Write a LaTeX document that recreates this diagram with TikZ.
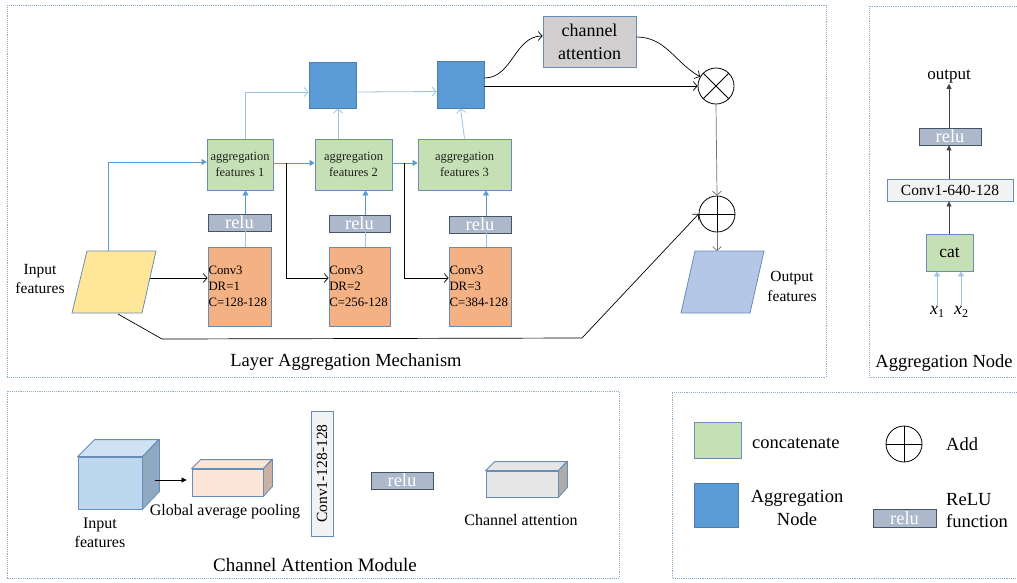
\documentclass[tikz,border=0pt]{standalone}
\usepackage{fontspec}
\setmainfont{Liberation Serif}
\usetikzlibrary{arrows.meta,calc}

\newcommand\fsz[2]{\fontsize{#1}{#2}\selectfont}
\newcommand\varsub[2]{\textit{#1}\raisebox{-3.5pt}{\fsz{12}{12}#2}}

\definecolor{frameC}{HTML}{8EAAC9}
\definecolor{blueL}{HTML}{5B9BD5}
\definecolor{blueP}{HTML}{9DC3E6}
\definecolor{aggG}{HTML}{C5E0B4}
\definecolor{edgeB}{HTML}{6A8DB5}
\definecolor{convO}{HTML}{F4B183}
\definecolor{reluF}{HTML}{ADB9CA}
\definecolor{reluE}{HTML}{44546A}
\definecolor{nodeB}{HTML}{5B9BD5}
\definecolor{nodeE}{HTML}{4A7EB0}
\definecolor{attG}{HTML}{D0CECE}
\definecolor{inY}{HTML}{FFE699}
\definecolor{outB}{HTML}{B4C7E7}
\definecolor{cubeF}{HTML}{BDD7EE}
\definecolor{cubeT}{HTML}{CFE2F3}
\definecolor{cubeS}{HTML}{8FA9C2}
\definecolor{poolF}{HTML}{FBE5D6}
\definecolor{poolS}{HTML}{C9B2A4}
\definecolor{caF}{HTML}{E7E6E6}
\definecolor{caS}{HTML}{ACACAC}
\definecolor{convL}{HTML}{F2F2F2}
\definecolor{txtD}{HTML}{1F1F1F}

\begin{document}
\begin{tikzpicture}[x=1pt,y=-1pt,
  box/.style={draw=edgeB, line width=0.8pt, inner sep=0pt, align=center},
  aggbox/.style={box, fill=aggG, text=txtD, font=\fsz{12.5}{15.5}},
  convbox/.style={box, fill=convO, font=\fsz{12.8}{16}, align=left, minimum height=79pt},
  relubox/.style={draw=reluE, fill=reluF, line width=0.9pt, inner sep=0pt, text=white,
    minimum height=17pt, font=\fsz{18.5}{18}},
  anode/.style={draw=nodeE, fill=nodeB, line width=0.8pt, inner sep=0pt},
  opnode/.style={circle, draw, line width=0.8pt, minimum size=36pt, inner sep=0pt},
  frame/.style={draw=frameC, densely dotted, line width=0.9pt},
  lbl/.style={inner sep=0pt, align=center},
  blk/.style={draw=black, line width=0.7pt, -{Straight Barb[length=4pt,width=9pt]}},
  gry/.style={draw=black!55, line width=0.7pt, -{Straight Barb[length=4pt,width=9pt]}},
  bfill/.style={draw=blueL, line width=0.8pt, -{Triangle[length=5pt,width=6pt]}},
  bopen/.style={draw=blueP, line width=0.8pt, -{Straight Barb[length=4pt,width=9pt]}},
  bline/.style={draw=blueP, line width=0.8pt},
  kfill/.style={draw=black!75, line width=0.7pt, -{Triangle[length=5pt,width=5pt]}},
  face/.style={draw=edgeB, line width=0.8pt},
]
\useasboundingbox (0,0) rectangle (1017,582);

% ---------- panel frames ----------
\draw[frame] (7,5) rectangle (826,377);
\draw[frame] (1017,6) -- (869,6) -- (869,377) -- (1017,377);
\draw[frame] (7,391) rectangle (619,578);
\draw[frame] (1017,392) -- (672,392) -- (672,578) -- (1017,578);

% ---------- layer aggregation mechanism ----------
\draw[draw=edgeB, fill=inY, line width=0.8pt] (87,251) -- (156,251) -- (142,313) -- (72,313) -- cycle;
\coordinate (inTop) at (108,251);
\coordinate (inRight) at (150,278);
\coordinate (inBot) at (118,314);
\node[lbl, font=\fsz{15.5}{19}] (inLbl) at (40,279) {Input\\features};

\draw[draw=edgeB, fill=outB, line width=0.8pt] (695,251) -- (764,251) -- (750,313) -- (681,313) -- cycle;
\coordinate (outTop) at (717,251);
\node[lbl, font=\fsz{15.5}{20}] (outLbl) at (792,286) {Output\\features};

\node[convbox, minimum width=63pt, text width=62pt] (conv1) at (239.5,286.5) {Conv3\\DR=1\\C=128-128};
\node[convbox, minimum width=61pt, text width=60.5pt] (conv2) at (359.5,286.5) {Conv3\\DR=2\\C=256-128};
\node[convbox, minimum width=62pt, text width=61pt] (conv3) at (480,286.5) {Conv3\\DR=3\\C=384-128};

\node[relubox, minimum width=63pt] (relu1) at (239.5,222.5) {relu};
\node[relubox, minimum width=61pt] (relu2) at (359.5,223.5) {relu};
\node[relubox, minimum width=62pt] (relu3) at (480,224.5) {relu};

\node[aggbox, minimum width=66pt, minimum height=51pt] (agg1) at (240,164.5) {aggregation\\features 1};
\node[aggbox, minimum width=77pt, minimum height=51pt] (agg2) at (353.5,164.5) {aggregation\\features 2};
\node[aggbox, minimum width=93pt, minimum height=51pt] (agg3) at (464.5,164.5) {aggregation\\features 3};

\node[anode, minimum width=47pt, minimum height=46pt] (node1) at (332.5,85) {};
\node[anode, minimum width=47pt, minimum height=47pt] (node2) at (460.5,84.5) {};

\node[box, fill=attG, minimum width=93pt, minimum height=51pt, font=\fsz{18}{23}] (att) at (589.5,41.5) {channel\\attention};

\node[opnode] (ot) at (716,86) {};
\draw[line width=0.8pt] (ot.north west) -- (ot.south east) (ot.north east) -- (ot.south west);
\node[opnode] (op) at (717,214) {};
\draw[line width=0.8pt] (op.north) -- (op.south) (op.west) -- (op.east);

% input to the first block and to the first aggregation
\draw[bfill] (inTop) |- ([yshift=2.5]agg1.west);
\draw[blk] (inRight) -- (inRight -| conv1.west);

% conv -> relu -> aggregation features
\foreach \i in {1,2,3}{
  \draw[bline] ([xshift=6]conv\i.north) -- ([xshift=6]relu\i.south);
  \draw[bfill] ([xshift=6]relu\i.north) -- ([xshift=6]relu\i.north |- agg\i.south);
}
\draw[bfill] ([yshift=1.5]agg1.east) -- ([yshift=1.5]agg2.west);
\draw[bfill] ([yshift=1.5]agg2.east) -- ([yshift=1.5]agg3.west);

% dense skip paths into the next conv block
\coordinate (k1) at (286,163);
\coordinate (k2) at (404,163);
\draw[blk] (k1) |- ([yshift=8.5]conv2.west);
\draw[blk] (k2) |- ([yshift=8.5]conv3.west);

% aggregation nodes
\draw[bopen] ([xshift=5]agg1.north) |- ([yshift=-7]node1.west);
\draw[bopen] ([xshift=5.5]node1.south |- agg2.north) -- ([xshift=5.5]node1.south);
\draw[bopen] ([yshift=-7]node1.east) -- ([yshift=-7]node2.west);
\draw[bopen] (agg3.north) -- (node2.south);

% channel attention and fusion
\draw[blk] ([yshift=6.5]node2.east) to[out=0,in=180] ([yshift=5.5]att.west);
\draw[blk] ([yshift=4.5]att.east) to[out=0,in=150] (ot.150);
\draw[blk] (node2.east |- ot.west) -- (ot.west);
\draw[gry] (ot.south) -- (op.north);
\draw[gry] (op.south) -- (outTop);

% long residual path
\coordinate (b1) at (162,339);
\coordinate (b2) at (582,338);
\draw[blk] (inBot) -- (b1) -- (b2) -- (op.west);

\node[lbl, font=\fsz{18.5}{22}] (t1) at (346,362) {Layer Aggregation Mechanism};

% ---------- aggregation node ----------
\node[lbl, font=\fsz{17}{20}] (anOut) at (949,77) {output};
\node[relubox, minimum width=62pt] (anRelu) at (950,136.5) {relu};
\node[box, fill=convL, minimum width=126pt, minimum height=22pt, font=\fsz{15.5}{18}] (anConv) at (950,190) {Conv1-640-128};
\node[box, fill=aggG, minimum width=47pt, minimum height=37pt, font=\fsz{17.5}{20}] (anCat) at (949.5,252.5) {cat};
\node[lbl, font=\fsz{18}{20}] (x1) at (937,312) {\varsub{x}{1}};
\node[lbl, font=\fsz{18}{20}] (x2) at (961,312) {\varsub{x}{2}};
\draw[kfill] (anRelu.north -| anOut) -- (anOut.south);
\draw[kfill] (anConv.north -| anOut) -- (anRelu.south -| anOut);
\draw[kfill] (anCat.north -| anOut) -- (anConv.south -| anOut);
\draw[bfill, draw=blueP] ([yshift=1]x1.north) -- (x1.north |- anCat.south);
\draw[bfill, draw=blueP] ([yshift=1]x2.north) -- (x2.north |- anCat.south);
\node[lbl, font=\fsz{18.5}{22}] (t2) at (944,363) {Aggregation Node};

% ---------- channel attention module ----------
\node[face, fill=cubeF, minimum width=64pt, minimum height=52pt, inner sep=0pt] (cube) at (110,483) {};
\draw[face, fill=cubeT] (cube.north west) -- ++(17,-17) -- ++(64,0) -- (cube.north east) -- cycle;
\draw[face, fill=cubeS] (cube.north east) -- ++(17,-17) -- ++(0,52) -- (cube.south east) -- cycle;
\node[lbl, font=\fsz{16}{19}] (cIn) at (100,532.5) {Input\\features};

\node[face, fill=poolF, minimum width=71pt, minimum height=27pt, inner sep=0pt] (pool) at (227.5,482.5) {};
\draw[face, fill=poolF] (pool.north west) -- ++(9,-9) -- ++(71,0) -- (pool.north east) -- cycle;
\draw[face, fill=poolS] (pool.north east) -- ++(9,-9) -- ++(0,27) -- (pool.south east) -- cycle;
\node[lbl, font=\fsz{16}{19}] (cPool) at (225,512) {Global average pooling};
\draw[kfill, draw=black] ([xshift=13,yshift=3]cube.east) -- ([xshift=-5,yshift=2.5]pool.west);

\node[box, fill=convL, minimum width=125pt, minimum height=22pt, rotate=90, font=\fsz{15.5}{18}] (cConv) at (322,473.5) {Conv1-128-128};
\node[relubox, minimum width=62pt] (cRelu) at (402,480.5) {relu};

\node[face, fill=caF, minimum width=72pt, minimum height=26pt, inner sep=0pt] (caBox) at (522,484) {};
\draw[face, fill=caF] (caBox.north west) -- ++(9,-9) -- ++(72,0) -- (caBox.north east) -- cycle;
\draw[face, fill=caS] (caBox.north east) -- ++(9,-9) -- ++(0,26) -- (caBox.south east) -- cycle;
\node[lbl, font=\fsz{16}{19}] (cAtt) at (521,520) {Channel attention};

\node[lbl, font=\fsz{19}{22}] (t3) at (315,565) {Channel Attention Module};

% ---------- legend ----------
\node[box, fill=aggG, minimum width=47pt, minimum height=36pt] (lgG) at (717.5,440) {};
\node[anode, minimum width=44pt, minimum height=44pt] (lgB) at (716,505) {};
\node[lbl, anchor=west, font=\fsz{18.5}{22}] (lgGt) at (752,443) {concatenate};
\node[lbl, font=\fsz{18.5}{23}] (lgBt) at (797,508) {Aggregation\\Node};
\node[opnode] (lgP) at (904,444) {};
\draw[line width=0.8pt] (lgP.north) -- (lgP.south) (lgP.west) -- (lgP.east);
\node[lbl, anchor=west, font=\fsz{18.5}{22}] (lgPt) at (946,444) {Add};
\node[relubox, minimum width=63pt, minimum height=18pt] (lgR) at (904.5,518) {relu};
\node[lbl, anchor=west, align=left, font=\fsz{18.5}{22}] (lgRt) at (946,511) {ReLU\\function};
\end{tikzpicture}
\end{document}
